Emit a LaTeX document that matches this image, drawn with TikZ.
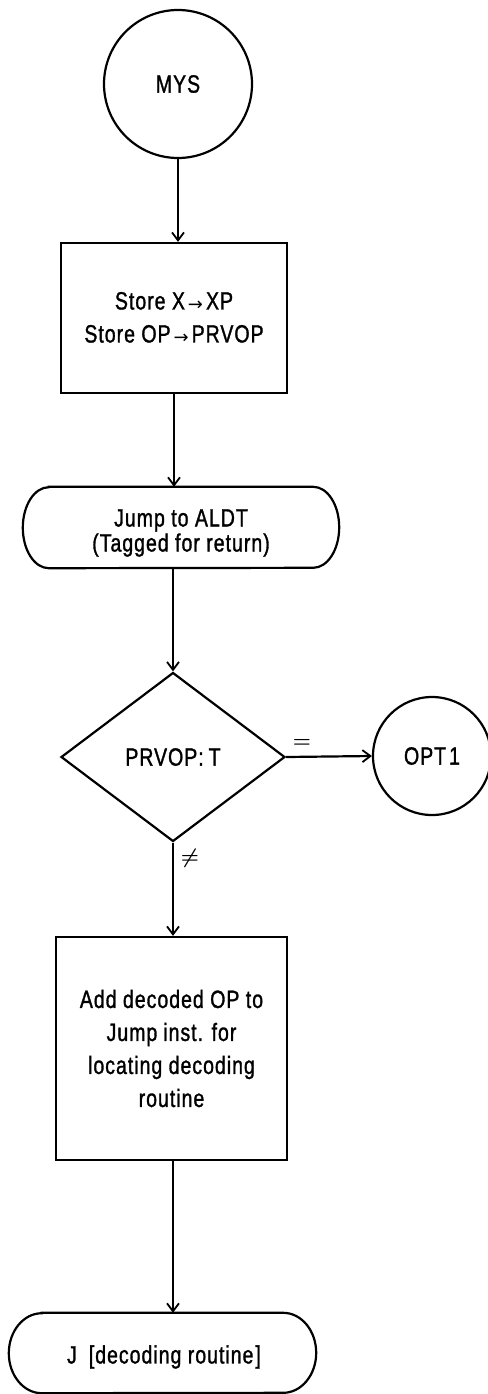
\documentclass[tikz,border=0pt]{standalone}
\usepackage{fontspec}
\setmainfont{Liberation Sans}[FakeStretch=0.78, LetterSpace=4, FakeBold=1.2]
\newfontfamily\djv{DejaVu Sans}
\usetikzlibrary{shapes.geometric,arrows.meta}
\newcommand\rarr{\kern3pt{\djv\fontsize{18}{18}\selectfont\raisebox{-1.5pt}{→}}\kern3pt}
\begin{document}
\begin{tikzpicture}[x=1pt,y=-1pt,
  ln/.style={line width=2.2pt},
  arr/.style={ln,-{Straight Barb[length=8pt,width=12pt,line width=1.8pt]}},
  txt/.style={font=\fontsize{25}{33}\selectfont, align=center},
  boxnode/.style={ln,draw,rectangle,inner sep=0pt,txt},
  circnode/.style={ln,draw,circle,inner sep=0pt,txt},
  termframe/.style={rectangle,inner sep=0pt},
  termtext/.style={inner sep=0pt,txt},
  decnode/.style={ln,draw,diamond,inner sep=0pt,txt},
  lbl/.style={inner sep=0pt,font=\fontsize{20}{20}\selectfont\boldmath}
]
\useasboundingbox (0,0) rectangle (487,1394);

\node[circnode, minimum size=148pt] (mys) at (178,84) {MYS};
\node[boxnode, minimum width=226pt, minimum height=150pt] (box1) at (174,318)
  {Store X\rarr XP\\Store OP\rarr PRVOP};

\node[termframe, minimum width=316pt, minimum height=81pt] (jmp) at (181,527.5) {};
\node[termtext, font=\fontsize{25}{25}\selectfont] (jmptext) at (181,533)
  {Jump to ALDT\\(Tagged for return)};
\draw[ln] ([xshift=26pt]jmp.north west) -- ([xshift=-26pt]jmp.north east)
  arc[start angle=90,end angle=-90,x radius=26pt,y radius=40.5pt]
  -- ([xshift=26pt]jmp.south west)
  arc[start angle=270,end angle=90,x radius=26pt,y radius=40.5pt] -- cycle;

\node[decnode, minimum width=224pt, minimum height=169pt] (dec) at (173,757) {PRVOP\kern1pt:\kern5pt T};
\node[circnode, minimum size=118pt] (opt) at (432,756) {OPT\kern3pt1};
\node[boxnode, minimum width=231pt, minimum height=223pt] (box2) at (171.5,1048.5)
  {Add decoded OP to\\Jump\kern6pt inst. for\\locating decoding\\routine};

\node[termframe, minimum width=307pt, minimum height=80pt] (term) at (162.5,1353) {};
\node[termtext] (termtext) at (164,1357)
  {J\kern12pt[decoding routine\kern2pt]};
\draw[ln] ([xshift=33pt]term.north west) -- ([xshift=-33pt]term.north east)
  arc[start angle=90,end angle=-90,x radius=33pt,y radius=40pt]
  -- ([xshift=33pt]term.south west)
  arc[start angle=270,end angle=90,x radius=33pt,y radius=40pt] -- cycle;

\node[lbl] (eq) at (302,743) {$=$};
\node[lbl] (ne) at (190,858) {$\neq$};

\draw[arr] (mys.south) -- (mys.south |- box1.north);
\draw[arr] (box1.south) -- (box1.south |- jmp.north);
\draw[arr] (jmp.south -| dec.north) -- (dec.north);
\draw[arr] (dec.east) -- (opt.west);
\draw[arr] (dec.south) -- (dec.south |- box2.north);
\draw[arr] (dec.south |- box2.south) -- (dec.south |- term.north);
\end{tikzpicture}
\end{document}
